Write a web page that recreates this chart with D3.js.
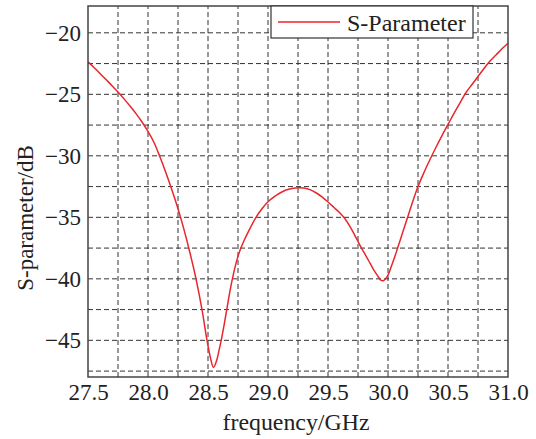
<!DOCTYPE html>
<html>
<head>
<meta charset="utf-8">
<script src="https://cdn.jsdelivr.net/npm/d3@7"></script>
<style>
  body { margin: 0; background: #fff; }
</style>
</head>
<body>
<div id="chart"></div>
<script>
// frequency (GHz) and S-parameter (dB)
var freq = [27.50, 27.55, 27.60, 27.65, 27.70, 27.75, 27.80, 27.85, 27.90, 27.95, 28.00, 28.05, 28.10, 28.15, 28.20, 28.25, 28.30, 28.35, 28.40, 28.45, 28.49, 28.52, 28.545, 28.57, 28.59, 28.61, 28.635, 28.66, 28.685, 28.71, 28.74, 28.77, 28.80, 28.85, 28.90, 28.95, 29.00, 29.05, 29.10, 29.15, 29.20, 29.26, 29.30, 29.35, 29.40, 29.45, 29.50, 29.55, 29.60, 29.64, 29.68, 29.72, 29.76, 29.80, 29.84, 29.88, 29.91, 29.94, 29.96, 29.98, 30.00, 30.02, 30.04, 30.06, 30.08, 30.12, 30.16, 30.20, 30.25, 30.30, 30.35, 30.40, 30.45, 30.50, 30.55, 30.60, 30.65, 30.70, 30.75, 30.80, 30.85, 30.90, 30.95, 31.00];
var sparam = [-22.35, -22.82, -23.3, -23.8, -24.3, -24.82, -25.37, -25.95, -26.57, -27.25, -28.02, -28.92, -30.1, -31.4, -32.8, -34.3, -36.0, -37.9, -40.0, -42.5, -44.9, -46.4, -47.2, -46.7, -45.9, -45.0, -43.7, -42.3, -40.9, -39.7, -38.5, -37.6, -36.9, -35.9, -35.0, -34.3, -33.73, -33.33, -33.02, -32.78, -32.65, -32.6, -32.62, -32.75, -33.0, -33.33, -33.75, -34.2, -34.65, -35.1, -35.7, -36.4, -37.15, -37.85, -38.55, -39.25, -39.7, -40.1, -40.15, -40.0, -39.7, -39.2, -38.65, -38.1, -37.5, -36.3, -35.1, -33.9, -32.5, -31.35, -30.3, -29.3, -28.35, -27.45, -26.55, -25.7, -24.85, -24.2, -23.55, -22.9, -22.3, -21.8, -21.3, -20.85];

var xTicks = [27.5, 28.0, 28.5, 29.0, 29.5, 30.0, 30.5, 31.0];
var yTicks = [-20, -25, -30, -35, -40, -45];
var xGrid = [27.75, 28.0, 28.25, 28.5, 28.75, 29.0, 29.25, 29.5, 29.75, 30.0, 30.25, 30.5, 30.75];
var yGrid = [-20, -22.5, -25, -27.5, -30, -32.5, -35, -37.5, -40, -42.5, -45, -47.5];
var seriesName = "S-Parameter";

var serif = '"Liberation Serif", "Times New Roman", Times, serif';
var width = 536, height = 439;
var margin = {left: 88, right: 28, top: 6, bottom: 62};

var svg = d3.select("#chart").append("svg")
    .attr("width", width)
    .attr("height", height)
    .style("font-family", serif);

var x = d3.scaleLinear().domain([27.5, 31.0]).range([margin.left, width - margin.right]);
var y = d3.scaleLinear().domain([-47.98, -17.82]).range([height - margin.bottom, margin.top]);

var data = freq.map((f, i) => ({f: f, v: sparam[i]}));

// dashed grid
var grid = svg.append("g").attr("stroke", "#333").attr("stroke-width", 1).attr("stroke-dasharray", "5,3");
grid.selectAll(".vg").data(xGrid).enter().append("line")
    .attr("x1", d => x(d)).attr("x2", d => x(d))
    .attr("y1", y.range()[0]).attr("y2", y.range()[1]);
grid.selectAll(".hg").data(yGrid).enter().append("line")
    .attr("y1", d => y(d)).attr("y2", d => y(d))
    .attr("x1", x.range()[0]).attr("x2", x.range()[1]);

// curve
var line = d3.line().x(d => x(d.f)).y(d => y(d.v)).curve(d3.curveCatmullRom.alpha(0.5));
svg.append("path").datum(data)
    .attr("fill", "none")
    .attr("stroke", "#e8262d")
    .attr("stroke-width", 1.5)
    .attr("d", line);

// frame
svg.append("rect")
    .attr("x", x.range()[0]).attr("y", y.range()[1])
    .attr("width", x.range()[1] - x.range()[0])
    .attr("height", y.range()[0] - y.range()[1])
    .attr("fill", "none").attr("stroke", "#444").attr("stroke-width", 1.5);

// axes (labels only, no tick marks)
var xAxis = svg.append("g")
    .attr("transform", "translate(0," + y.range()[0] + ")")
    .call(d3.axisBottom(x).tickValues(xTicks).tickFormat(d3.format(".1f")).tickSize(0).tickPadding(7))
    .attr("font-family", null).attr("font-size", null);
xAxis.select(".domain").remove();
xAxis.selectAll("text").attr("font-size", 23).style("font-family", serif).attr("fill", "#222");

var yAxis = svg.append("g")
    .attr("transform", "translate(" + x.range()[0] + ",0)")
    .call(d3.axisLeft(y).tickValues(yTicks).tickFormat(d => "\u2212" + Math.abs(d)).tickSize(0).tickPadding(7))
    .attr("font-family", null).attr("font-size", null);
yAxis.select(".domain").remove();
yAxis.selectAll("text").attr("font-size", 23).style("font-family", serif).attr("fill", "#222");

// axis titles
svg.append("text")
    .attr("x", 296).attr("y", 430)
    .attr("text-anchor", "middle")
    .attr("font-size", 24)
    .attr("fill", "#222")
    .attr("textLength", 147).attr("lengthAdjust", "spacingAndGlyphs")
    .text("frequency/GHz");

svg.append("text")
    .attr("transform", "translate(33,218) rotate(-90)")
    .attr("text-anchor", "middle")
    .attr("font-size", 23)
    .attr("fill", "#222")
    .text("S-parameter/dB");

// legend
var legend = svg.append("g");
legend.append("rect")
    .attr("x", 271).attr("y", 6).attr("width", 202).attr("height", 32)
    .attr("fill", "#fff").attr("stroke", "#333").attr("stroke-width", 1.2);
legend.append("line")
    .attr("x1", 278).attr("x2", 340).attr("y1", 22).attr("y2", 22)
    .attr("stroke", "#e8262d").attr("stroke-width", 1.5);
legend.append("text")
    .attr("x", 347).attr("y", 31)
    .attr("font-size", 24)
    .attr("fill", "#222")
    .text(seriesName);
</script>
</body>
</html>
